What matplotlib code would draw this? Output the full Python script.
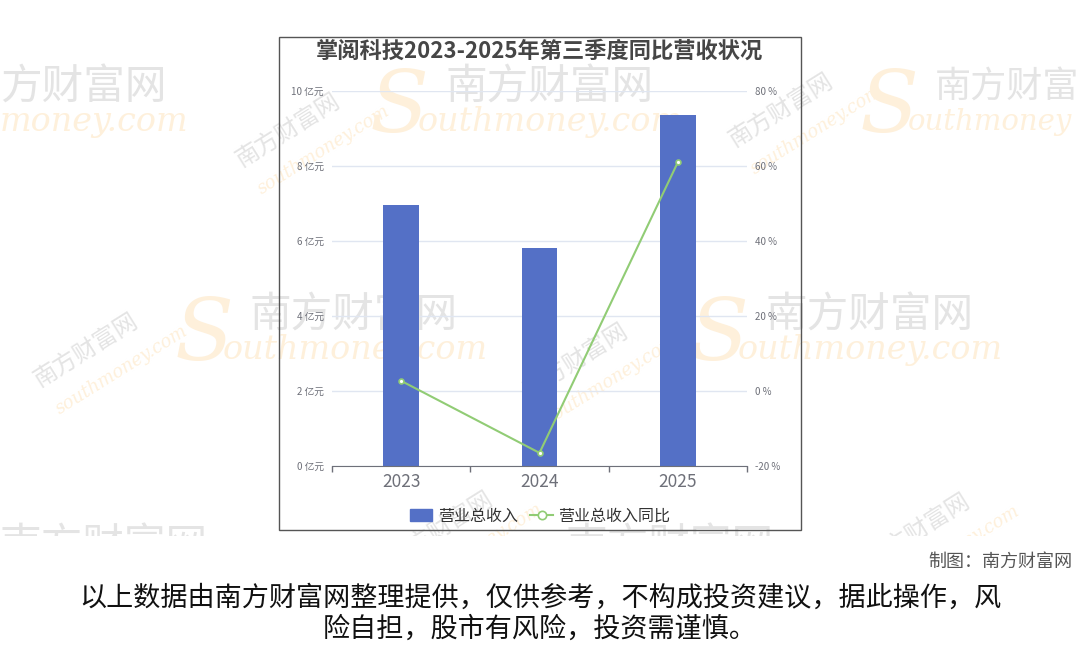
import numpy as np
import matplotlib.pyplot as plt
from matplotlib.patches import Rectangle
from matplotlib.lines import Line2D
from matplotlib.patches import FancyBboxPatch

plt.rcParams['font.family'] = ['Noto Sans CJK SC', 'DejaVu Sans']

# data
years = ['2023', '2024', '2025']
revenue = [6.96, 5.81, 9.36]          # 亿元
yoy = [2.7, -16.5, 61.0]              # %
left_ticks = [0, 2, 4, 6, 8, 10]
right_ticks = [-20, 0, 20, 40, 60, 80]

title = '掌阅科技2023-2025年第三季度同比营收状况'
bar_name = '营业总收入'
line_name = '营业总收入同比'
credit = '制图：南方财富网'
note1 = '以上数据由南方财富网整理提供，仅供参考，不构成投资建议，据此操作，风'
note2 = '险自担，股市有风险，投资需谨慎。'

fig = plt.figure(figsize=(10.8, 6.46), dpi=100)
W, H = 1080, 646

def fx(x):
    return x / W

def fy(y):
    return 1 - y / H

# faint watermarks behind everything
wm_gray = '#e4e4e4'
wm_orange = '#fef0db'
# (x of S, y of chinese row, chinese text, latin text, sizes)
big = [(-75, 88, '方财富网', 'money.com', 30, 24), (370, 88, '南方财富网', 'outhmoney.com', 30, 24),
       (860, 88, '南方财富', 'outhmoney', 26, 21), (175, 316, '南方财富网', 'outhmoney.com', 30, 24),
       (690, 316, '南方财富网', 'outhmoney.com', 30, 24), (-20, 547, '南方财富网', '', 30, 24),
       (490, 547, '南方财富网', '', 30, 24)]
for x, y, cn, en, s1, s2 in big:
    if x > 0 and en:
        fig.text(fx(x), fy(y + 20), 'S', fontsize=62, color=wm_orange, style='italic',
                 family='DejaVu Serif', va='center', ha='left', zorder=-5)
    cx = x + 75 if x > 0 else 0
    fig.text(fx(cx), fy(y), cn, fontsize=s1, color=wm_gray,
             va='center', ha='left', zorder=-5)
    if en:
        ex = x + 48 if x > 0 else 0
        fig.text(fx(ex), fy(y + 34), en, fontsize=s2, color=wm_orange,
                 style='italic', family='DejaVu Serif', va='center', ha='left', zorder=-5)
small = [(232, 130), (725, 110), (30, 350), (520, 360), (385, 528), (862, 530)]
for x, y in small:
    fig.text(fx(x), fy(y), '南方财富网', fontsize=17, color=wm_gray, rotation=32,
             va='center', ha='left', zorder=-5)
    fig.text(fx(x + 22), fy(y + 20), 'southmoney.com', fontsize=13, color=wm_orange,
             rotation=32, style='italic', family='DejaVu Serif', va='center', ha='left', zorder=-5)
# white band under the chart hides the lower watermarks
fig.patches.append(Rectangle((0, 0), 1, fy(536), transform=fig.transFigure,
                             facecolor='white', edgecolor='none', zorder=-4))

# chart frame
fig.patches.append(Rectangle((fx(279), fy(530)), fx(522), 493 / H, transform=fig.transFigure,
                             fill=False, edgecolor='#555555', linewidth=1.0, zorder=1))

ax = fig.add_axes([fx(332), fy(466), fx(415), 375 / H])
ax.patch.set_alpha(0)
x = np.arange(len(years))
ax.bar(x, revenue, width=0.26, color='#5470c6', zorder=2)
ax.set_xlim(-0.5, 2.5)
ax.set_ylim(0, 10)
ax.set_yticks(left_ticks)
ax.set_yticklabels([f'{v} 亿元' for v in left_ticks])
ax.set_xticks(x)
ax.set_xticklabels(years)
ax.set_xticks([-0.5, 0.5, 1.5, 2.5], minor=True)
ax.tick_params(axis='x', which='major', length=0, labelsize=12.5, labelcolor='#6e7079', pad=5)
ax.tick_params(axis='x', which='minor', length=4, color='#6e7079', width=1)
ax.tick_params(axis='y', length=0, labelsize=7, labelcolor='#6e7079', pad=6)
ax.grid(axis='y', color='#e0e6f1', linewidth=1, zorder=0)
for s in ['top', 'right', 'left']:
    ax.spines[s].set_visible(False)
ax.spines['bottom'].set_color('#6e7079')

ax2 = ax.twinx()
ax2.plot(x, yoy, color='#91cc75', linewidth=1.5, marker='o', markersize=3.5,
         markerfacecolor='white', markeredgecolor='#91cc75', markeredgewidth=1.2, zorder=3)
ax2.set_ylim(-20, 80)
ax2.set_yticks(right_ticks)
ax2.set_yticklabels([f'{v} %' for v in right_ticks])
ax2.tick_params(axis='y', length=0, labelsize=7, labelcolor='#6e7079', pad=6)
for s in ax2.spines.values():
    s.set_visible(False)

fig.text(fx(539), fy(51), title, fontsize=16, fontweight='bold', color='#464646',
         ha='center', va='center')

handles = [FancyBboxPatch((0, 0), 1, 1, boxstyle='round,pad=0,rounding_size=0.3', color='#5470c6'),
           Line2D([], [], color='#91cc75', linewidth=1.5, marker='o', markersize=6,
                  markerfacecolor='white', markeredgecolor='#91cc75', markeredgewidth=1.2)]
fig.legend(handles, [bar_name, line_name], loc='center', bbox_to_anchor=(fx(540), fy(516)),
           ncol=2, frameon=False, fontsize=11.5, labelcolor='#333333', handlelength=1.4,
           handleheight=0.8, columnspacing=0.8, handletextpad=0.35)

fig.text(fx(1072), fy(562), credit, fontsize=13, color='#555555', ha='right', va='center')
fig.text(fx(540), fy(598), note1, fontsize=19.5, color='#111111', ha='center', va='center')
fig.text(fx(540), fy(629), note2, fontsize=19.5, color='#111111', ha='center', va='center')

fig.savefig('out.png', dpi=100, facecolor='white')
